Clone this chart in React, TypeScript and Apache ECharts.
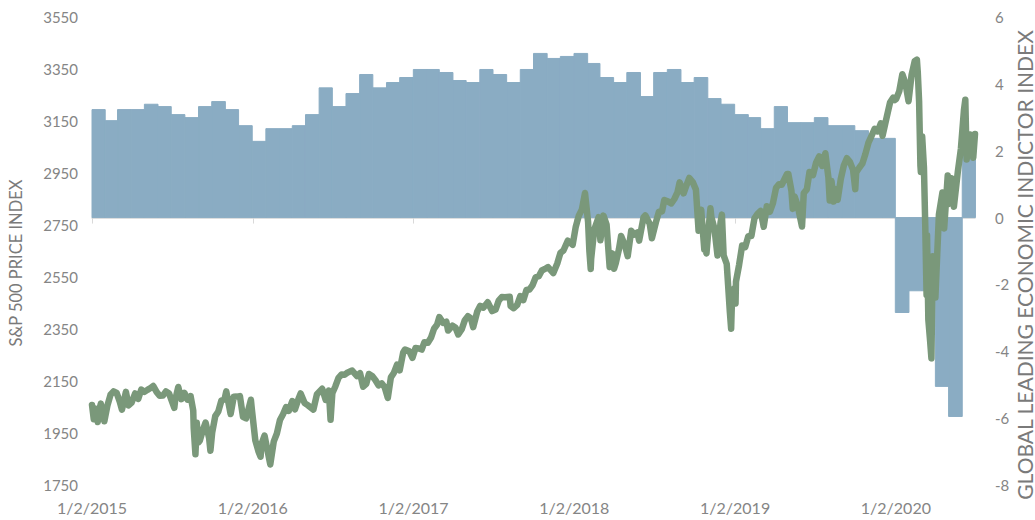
import React, { useEffect, useRef } from "react";
import * as echarts from "echarts";

// ---- Data ----
const baseDate = "2015-01-02";
const xTickYears = [2015, 2016, 2017, 2018, 2019, 2020];
const leftTicks = [1750, 1950, 2150, 2350, 2550, 2750, 2950, 3150, 3350, 3550];
const rightTicks = [-8, -6, -4, -2, 0, 2, 4, 6];
const leftAxisName = "S&P 500 PRICE INDEX";
const rightAxisName = "GLOBAL LEADING ECONOMIC INDICTOR INDEX";

// Global leading economic indicator index, monthly, Jan 2015 – Jun 2020
const leiStartYear = 2015;
const leiValues = [
  3.23, 2.9, 3.23, 3.23, 3.39, 3.32, 3.08, 2.99, 3.32, 3.47, 3.23, 2.75,
  2.28, 2.66, 2.66, 2.75, 3.08, 3.88, 3.32, 3.71, 4.28, 3.88, 4.04, 4.19,
  4.43, 4.43, 4.34, 4.1, 4.04, 4.43, 4.28, 4.04, 4.43, 4.91, 4.76, 4.82,
  4.91, 4.61, 4.19, 4.04, 4.34, 3.62, 4.34, 4.43, 4.04, 4.19, 3.56, 3.39,
  3.08, 2.99, 2.66, 3.32, 2.84, 2.84, 2.99, 2.75, 2.75, 2.6, 2.37, 2.37,
  -2.84, -2.19, -2.19, -5.05, -5.95, 2.0,
];

// S&P 500 price index
const spDates = [
  "2015-01-02","2015-01-06","2015-01-09","2015-01-15","2015-01-16","2015-01-22","2015-01-30","2015-02-06","2015-02-13","2015-02-20","2015-02-27","2015-03-06","2015-03-11","2015-03-13","2015-03-20","2015-03-26","2015-04-02","2015-04-10","2015-04-17","2015-04-24","2015-05-01","2015-05-08","2015-05-15","2015-05-21","2015-05-29","2015-06-05","2015-06-12","2015-06-19","2015-06-26","2015-07-08","2015-07-10","2015-07-17","2015-07-24","2015-07-31","2015-08-07","2015-08-14","2015-08-20","2015-08-21","2015-08-25","2015-08-28","2015-09-01","2015-09-04","2015-09-11","2015-09-17","2015-09-25","2015-09-28","2015-10-02","2015-10-09","2015-10-16","2015-10-23","2015-10-30","2015-11-03","2015-11-13","2015-11-20","2015-11-27","2015-12-04","2015-12-11","2015-12-18","2015-12-29","2015-12-31",
  "2016-01-08","2016-01-15","2016-01-20","2016-01-22","2016-01-29","2016-02-05","2016-02-11","2016-02-19","2016-02-26","2016-03-04","2016-03-11","2016-03-18","2016-03-24","2016-04-01","2016-04-07","2016-04-15","2016-04-20","2016-04-29","2016-05-06","2016-05-19","2016-05-27","2016-06-08","2016-06-16","2016-06-23","2016-06-27","2016-07-01","2016-07-08","2016-07-15","2016-07-22","2016-07-29","2016-08-05","2016-08-15","2016-08-26","2016-09-02","2016-09-09","2016-09-16","2016-09-22","2016-09-30","2016-10-07","2016-10-14","2016-10-21","2016-10-28","2016-11-04","2016-11-11","2016-11-18","2016-11-25","2016-12-01","2016-12-09","2016-12-13","2016-12-23","2016-12-30",
  "2017-01-06","2017-01-13","2017-01-20","2017-01-26","2017-02-03","2017-02-10","2017-02-17","2017-02-24","2017-03-01","2017-03-10","2017-03-17","2017-03-21","2017-03-31","2017-04-07","2017-04-13","2017-04-21","2017-04-28","2017-05-05","2017-05-12","2017-05-17","2017-05-26","2017-06-02","2017-06-09","2017-06-19","2017-06-29","2017-07-07","2017-07-14","2017-07-21","2017-07-28","2017-08-08","2017-08-10","2017-08-17","2017-08-25","2017-09-01","2017-09-08","2017-09-15","2017-09-22","2017-09-29","2017-10-06","2017-10-13","2017-10-20","2017-10-27","2017-11-03","2017-11-15","2017-11-24","2017-12-01","2017-12-08","2017-12-18","2017-12-29",
  "2018-01-05","2018-01-12","2018-01-19","2018-01-26","2018-02-02","2018-02-05","2018-02-08","2018-02-09","2018-02-16","2018-02-26","2018-03-02","2018-03-09","2018-03-16","2018-03-23","2018-03-29","2018-04-02","2018-04-06","2018-04-13","2018-04-18","2018-04-27","2018-05-03","2018-05-11","2018-05-18","2018-05-25","2018-05-29","2018-06-08","2018-06-12","2018-06-22","2018-06-27","2018-07-06","2018-07-13","2018-07-20","2018-07-25","2018-08-03","2018-08-10","2018-08-17","2018-08-24","2018-08-29","2018-09-07","2018-09-14","2018-09-20","2018-09-28","2018-10-05","2018-10-11","2018-10-17","2018-10-24","2018-10-26","2018-10-29","2018-11-02","2018-11-07","2018-11-09","2018-11-16","2018-11-23","2018-11-30","2018-12-03","2018-12-07","2018-12-14","2018-12-21","2018-12-24","2018-12-26","2018-12-31",
  "2019-01-03","2019-01-04","2019-01-11","2019-01-18","2019-01-25","2019-02-01","2019-02-08","2019-02-15","2019-02-22","2019-03-01","2019-03-08","2019-03-15","2019-03-22","2019-03-29","2019-04-05","2019-04-12","2019-04-18","2019-04-30","2019-05-03","2019-05-10","2019-05-13","2019-05-17","2019-05-24","2019-06-03","2019-06-07","2019-06-14","2019-06-20","2019-06-28","2019-07-05","2019-07-12","2019-07-19","2019-07-26","2019-08-02","2019-08-05","2019-08-09","2019-08-14","2019-08-16","2019-08-23","2019-08-30","2019-09-06","2019-09-13","2019-09-20","2019-09-27","2019-10-02","2019-10-04","2019-10-11","2019-10-18","2019-10-25","2019-11-01","2019-11-08","2019-11-15","2019-11-22","2019-11-29","2019-12-03","2019-12-13","2019-12-20","2019-12-27","2019-12-31",
  "2020-01-03","2020-01-10","2020-01-17","2020-01-24","2020-01-31","2020-02-07","2020-02-14","2020-02-19","2020-02-21","2020-02-24","2020-02-27","2020-02-28","2020-03-02","2020-03-06","2020-03-09","2020-03-12","2020-03-13","2020-03-16","2020-03-20","2020-03-23","2020-03-26","2020-04-01","2020-04-09","2020-04-17","2020-04-21","2020-04-29","2020-05-01","2020-05-08","2020-05-13","2020-05-22","2020-05-29","2020-06-05","2020-06-08","2020-06-11","2020-06-19","2020-06-26","2020-06-30",
];
const spValues = [
  2058,2003,2044,1992,2019,2063,1995,2055,2097,2110,2104,2071,2040,2053,2108,2056,2067,2102,2081,2117,2108,2116,2123,2131,2107,2093,2094,2110,2102,2047,2077,2127,2080,2104,2078,2092,2036,1971,1868,1989,1914,1921,1962,1990,1931,1882,1951,2015,2033,2075,2079,2110,2023,2089,2090,2092,2012,2006,2078,2044,
  1922,1880,1859,1907,1940,1880,1829,1918,1948,2000,2022,2050,2035,2073,2041,2081,2102,2065,2057,2040,2099,2120,2077,2113,2001,2103,2130,2162,2175,2174,2183,2190,2169,2180,2128,2139,2177,2168,2153,2133,2141,2126,2085,2164,2182,2213,2191,2260,2271,2264,2239,
  2277,2275,2271,2299,2297,2316,2351,2367,2396,2373,2378,2344,2363,2355,2329,2349,2384,2399,2391,2357,2416,2439,2432,2453,2419,2425,2459,2473,2472,2474,2438,2430,2443,2477,2461,2500,2502,2519,2549,2553,2575,2581,2588,2565,2602,2642,2652,2690,2674,
  2743,2786,2810,2873,2762,2649,2581,2620,2732,2780,2691,2786,2752,2588,2641,2582,2604,2656,2708,2670,2630,2728,2713,2721,2690,2779,2787,2755,2699,2760,2801,2802,2846,2840,2833,2850,2875,2914,2872,2905,2931,2914,2886,2728,2809,2656,2659,2641,2723,2814,2781,2736,2633,2760,2790,2633,2600,2417,2351,2468,2507,
  2448,2532,2596,2671,2665,2707,2708,2776,2793,2804,2743,2822,2801,2834,2893,2907,2905,2946,2946,2881,2812,2860,2826,2744,2873,2887,2954,2942,2990,3014,2977,3026,2932,2844,2919,2840,2889,2847,2926,2979,3007,2992,2962,2888,2952,2970,2986,3023,3067,3093,3120,3110,3141,3093,3169,3221,3240,3231,
  3235,3265,3330,3295,3226,3328,3380,3386,3338,3226,2979,2954,3090,2972,2747,2481,2711,2386,2305,2237,2630,2471,2790,2875,2737,2940,2831,2930,2820,2955,3044,3194,3232,3002,3098,3009,3100,
];
const endDate = "2020-06-30";

const DAY = 86400000;
const baseMs = Date.parse(baseDate);
const dayOffset = (ms: number) => (ms - baseMs) / DAY;

export default function App() {
  const ref = useRef<HTMLDivElement>(null);
  useEffect(() => {
    if (!ref.current) return;
    const chart = echarts.init(ref.current, undefined, { renderer: "svg" });

    const lineData = spDates.map((d, i) => [dayOffset(Date.parse(d)), spValues[i]]);
    const barData = leiValues.map((v, i) => {
      const s = Math.max(0, dayOffset(Date.UTC(leiStartYear, i, 1)));
      const e = dayOffset(Date.UTC(leiStartYear, i + 1, 1));
      return [s, e, v];
    });
    const xMax = dayOffset(Date.parse(endDate));
    const yearInterval = 365.25;
    const font = "Lato, 'Open Sans', sans-serif";
    const gray = "#858585";
    const nameColor = "#7a7a7a";

    chart.setOption({
      animation: false,
      backgroundColor: "#ffffff",
      grid: {
        left: 92,
        right: 60,
        top: 17,
        bottom: 35,
        containLabel: false,
        outerBoundsMode: "none",
      },
      graphic: [
        {
          type: "text",
          x: 16,
          y: 263,
          rotation: Math.PI / 2,
          style: {
            text: leftAxisName,
            fill: nameColor,
            font: `16.5px ${font}`,
            align: "center",
            verticalAlign: "middle",
          },
        },
        {
          type: "text",
          x: 1024,
          y: 265,
          rotation: Math.PI / 2,
          style: {
            text: rightAxisName,
            fill: nameColor,
            font: `21px ${font}`,
            align: "center",
            verticalAlign: "middle",
          },
        },
      ],
      xAxis: {
        type: "value",
        min: 0,
        max: xMax,
        interval: yearInterval,
        splitLine: { show: false },
        axisLine: { show: true, lineStyle: { color: "#d9d9d9", width: 1.5 } },
        axisTick: { show: true, length: 6, lineStyle: { color: "#d9d9d9" } },
        axisLabel: {
          color: gray,
          fontFamily: font,
          fontSize: 16,
          margin: 14,
          showMaxLabel: false,
          formatter: (v: number) => {
            const k = Math.round(v / yearInterval);
            if (Math.abs(v / yearInterval - k) > 0.01) return "";
            const yr = xTickYears[k];
            if (yr === undefined) return "";
            const d = new Date(baseMs + Math.round(v) * DAY);
            return `${d.getUTCMonth() + 1}/${d.getUTCDate()}/${d.getUTCFullYear()}`;
          },
        },
      },
      yAxis: [
        {
          type: "value",
          min: leftTicks[0],
          max: leftTicks[leftTicks.length - 1],
          interval: leftTicks[1] - leftTicks[0],
          position: "left",
          splitLine: { show: false },
          axisLine: { show: false },
          axisTick: { show: false },
          axisLabel: {
            color: gray,
            fontFamily: font,
            fontSize: 15,
            margin: 14,
            formatter: (v: number) => String(v),
          },
        },
        {
          type: "value",
          min: rightTicks[0],
          max: rightTicks[rightTicks.length - 1],
          interval: rightTicks[1] - rightTicks[0],
          position: "right",
          splitLine: { show: false },
          axisLine: { show: false },
          axisTick: { show: false },
          axisLabel: { color: gray, fontFamily: font, fontSize: 15, margin: 20 },
        },
      ],
      series: [
        {
          type: "custom",
          name: "Global LEI",
          yAxisIndex: 1,
          z: 1,
          encode: { x: [0, 1], y: 2 },
          data: barData,
          renderItem: (params: any, api: any) => {
            const s = api.value(0);
            const e = api.value(1);
            const v = api.value(2);
            const p0 = api.coord([s, v]);
            const p1 = api.coord([e, 0]);
            return {
              type: "rect",
              shape: {
                x: p0[0],
                y: Math.min(p0[1], p1[1]),
                width: p1[0] - p0[0],
                height: Math.abs(p1[1] - p0[1]),
              },
              style: { fill: "#8aacc3", stroke: "#8aacc3", lineWidth: 1 },
            };
          },
        },
        {
          type: "line",
          name: "S&P 500",
          yAxisIndex: 0,
          z: 5,
          data: lineData,
          showSymbol: false,
          symbol: "none",
          lineStyle: { color: "#7a987a", width: 6.5, cap: "round", join: "round" },
        },
      ],
    });
    return () => chart.dispose();
  }, []);
  return (
    <div
      ref={ref}
      style={{ position: "fixed", left: 0, top: 0, width: 1035, height: 520 }}
    />
  );
}
